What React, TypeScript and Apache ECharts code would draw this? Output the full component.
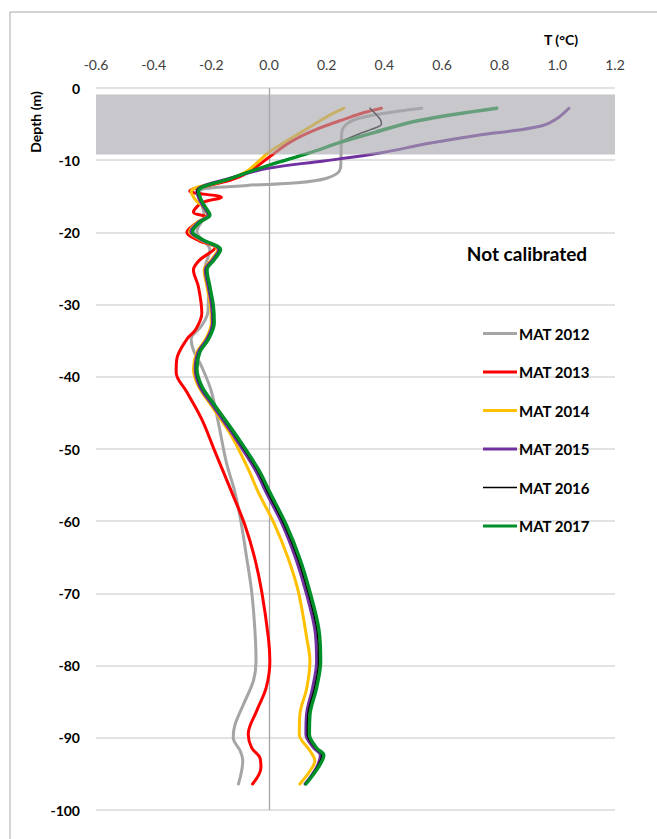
import React, { useEffect, useRef } from "react";
import * as echarts from "echarts";

const xTicks = { min: -0.6, max: 1.2, interval: 0.2 };
const yTicks = { min: -100, max: 0, interval: 10 };
const band = { top: -0.9, bottom: -9.2, left: -0.6, right: 1.2 };

const seriesNames = ["MAT 2012", "MAT 2013", "MAT 2014", "MAT 2015", "MAT 2016", "MAT 2017"];
const seriesColors = ["#a5a5a5", "#ff0000", "#ffc000", "#7030a0", "#000000", "#00902a"];
const seriesWidths = [3, 3, 3, 3, 1.6, 3.4];

const mat2012: [number, number][] = [
  [0.53, -2.8], [0.385, -3.6], [0.29, -4.5], [0.258, -5.5], [0.252, -6.5], [0.25, -9], [0.248, -11.1],
  [0.2, -12.5], [0.073, -13.2], [-0.077, -13.5], [-0.24, -14.3], [-0.238, -15.5], [-0.225, -17.6],
  [-0.25, -19.9], [-0.205, -22.4], [-0.222, -25], [-0.21, -28], [-0.212, -31], [-0.235, -33],
  [-0.27, -34.8], [-0.262, -36.3], [-0.23, -38.9], [-0.2, -42], [-0.175, -46.5], [-0.147, -52],
  [-0.118, -56], [-0.095, -60.6], [-0.077, -65.2], [-0.06, -69.8], [-0.049, -75], [-0.045, -79.4],
  [-0.054, -82.1], [-0.089, -85.4], [-0.118, -88.2], [-0.124, -90], [-0.1, -91.8], [-0.091, -93.2],
  [-0.106, -96.4],
];

const mat2013: [number, number][] = [
  [0.39, -2.8], [0.33, -3.4], [0.27, -4.2], [0.16, -5.8], [0.073, -7.5], [0.0, -9.6], [-0.077, -11.8],
  [-0.135, -12.8], [-0.275, -14.3], [-0.165, -15.15], [-0.232, -15.9], [-0.262, -17.2], [-0.216, -17.9],
  [-0.262, -19], [-0.285, -20], [-0.24, -21.2], [-0.187, -22.1], [-0.24, -23.8], [-0.262, -25.2],
  [-0.245, -27.5], [-0.233, -31.2], [-0.255, -33.5], [-0.285, -34.8], [-0.32, -37.6], [-0.322, -39.4],
  [-0.285, -42.1], [-0.233, -45.9], [-0.187, -50.4], [-0.129, -56], [-0.083, -60.6], [-0.049, -65.2],
  [-0.025, -69.8], [-0.002, -76.2], [0.003, -79.4], [-0.01, -83.1], [-0.043, -86.3], [-0.072, -89.5],
  [-0.06, -91.4], [-0.031, -92.8], [-0.028, -94.1], [-0.057, -96.4],
];

const mat2014: [number, number][] = [
  [0.26, -2.8], [0.2, -4], [0.15, -5.2], [0.075, -7], [0.0, -8.9], [-0.08, -11.6], [-0.17, -13],
  [-0.27, -14.3], [-0.255, -15.5], [-0.23, -16.4], [-0.213, -17.6], [-0.25, -18.6], [-0.275, -19.9],
  [-0.24, -21], [-0.178, -22.4], [-0.2, -23.8], [-0.225, -25.2], [-0.215, -27.5], [-0.203, -30.2],
  [-0.2, -32.5], [-0.22, -34.8], [-0.25, -36.6], [-0.262, -38.9], [-0.245, -41.3], [-0.2, -44],
  [-0.13, -48.2], [-0.072, -52.8], [-0.037, -56], [0.021, -60.6], [0.067, -65.2], [0.102, -69.8],
  [0.131, -76.2], [0.142, -79.4], [0.131, -83.1], [0.107, -86.8], [0.105, -89.5], [0.142, -91.8],
  [0.159, -93.2], [0.142, -94.6], [0.107, -96.4],
];

const mat2015: [number, number][] = [
  [1.04, -2.8], [1.0, -4.2], [0.95, -5.2], [0.85, -5.9], [0.73, -6.5], [0.55, -7.7], [0.385, -9.0],
  [0.19, -10.1], [0.0, -11.1], [-0.135, -12.5], [-0.25, -14.3], [-0.241, -15.5], [-0.228, -16.4],
  [-0.211, -17.6], [-0.246, -18.6], [-0.271, -19.9], [-0.236, -21], [-0.174, -22.4], [-0.196, -23.8],
  [-0.221, -25.2], [-0.211, -27.5], [-0.199, -30.2], [-0.196, -32.5], [-0.216, -34.8], [-0.246, -36.6],
  [-0.256, -38.9], [-0.241, -41.3], [-0.195, -44], [-0.122, -48.2], [-0.049, -52.8], [-0.01, -56],
  [0.048, -60.6], [0.093, -65.2], [0.128, -69.8], [0.159, -75], [0.165, -79.4], [0.151, -83.1],
  [0.13, -86.8], [0.128, -89.5], [0.155, -91.4], [0.178, -92.4], [0.165, -94.1], [0.125, -96.4],
];

const mat2016: [number, number][] = [
  [0.35, -2.8], [0.385, -4.3], [0.39, -5.0], [0.35, -5.8], [0.31, -6.4], [0.25, -7.4], [0.135, -9],
  [-0.005, -10.7], [-0.135, -12.5], [-0.25, -14.3], [-0.238, -15.5], [-0.225, -16.4], [-0.208, -17.6],
  [-0.243, -18.6], [-0.268, -19.9], [-0.233, -21], [-0.171, -22.4], [-0.193, -23.8], [-0.218, -25.2],
  [-0.208, -27.5], [-0.196, -30.2], [-0.193, -32.5], [-0.213, -34.8], [-0.243, -36.6], [-0.253, -38.9],
  [-0.237, -41.3], [-0.19, -44], [-0.117, -48.2], [-0.043, -52.8], [-0.004, -56], [0.054, -60.6],
  [0.1, -65.2], [0.135, -69.8], [0.166, -75], [0.172, -79.4], [0.158, -83.1], [0.135, -86.8],
  [0.133, -89.5], [0.16, -91.4], [0.183, -92.4], [0.166, -94.1], [0.125, -96.4],
];

const mat2017: [number, number][] = [
  [0.79, -2.8], [0.52, -4.5], [0.37, -6.1], [0.25, -7.5], [0.14, -9], [0.0, -10.7], [-0.13, -12.5],
  [-0.245, -14.3], [-0.235, -15.5], [-0.222, -16.4], [-0.205, -17.6], [-0.24, -18.6], [-0.265, -19.9],
  [-0.23, -21], [-0.168, -22.4], [-0.19, -23.8], [-0.215, -25.2], [-0.205, -27.5], [-0.193, -30.2],
  [-0.19, -32.5], [-0.21, -34.8], [-0.24, -36.6], [-0.25, -38.9], [-0.233, -41.3], [-0.187, -44],
  [-0.112, -48.2], [-0.037, -52.8], [0.003, -56], [0.061, -60.6], [0.107, -65.2], [0.142, -69.8],
  [0.173, -75], [0.179, -79.4], [0.165, -83.1], [0.142, -86.8], [0.14, -89.5], [0.165, -91.4],
  [0.19, -92.4], [0.171, -94.1], [0.128, -96.4],
];

const allData = [mat2012, mat2013, mat2014, mat2015, mat2016, mat2017];

const FONT = "Lato, 'Open Sans', sans-serif";

export default function App() {
  const ref = useRef<HTMLDivElement>(null);
  useEffect(() => {
    document.body.style.margin = "0";
    const chart = echarts.init(ref.current!, null, { renderer: "svg" });
    const lineSeries: any[] = seriesNames.map((name, i) => ({
      name,
      type: "line",
      data: allData[i],
      showSymbol: false,
      symbol: "none",
      smooth: 0.35,
      lineStyle: { color: seriesColors[i], width: seriesWidths[i], cap: "round", join: "round" },
      itemStyle: { color: seriesColors[i] },
      z: 3 + i,
      ...(i === 0
        ? {
            markLine: {
              silent: true,
              symbol: "none",
              label: { show: false },
              lineStyle: { color: "#a6a6a6", width: 1.3, type: "solid" },
              data: [{ xAxis: 0 }],
              z: 1,
            },
          }
        : {}),
    }));
    lineSeries.push({
      name: "band",
      type: "line",
      data: [],
      z: 20,
      silent: true,
      markArea: {
        silent: true,
        z: 30,
        itemStyle: { color: "rgba(166,166,172,0.62)" },
        data: [[{ coord: [band.left, band.top] }, { coord: [band.right, band.bottom] }]],
      },
    });
    chart.setOption({
      animation: false,
      backgroundColor: "#ffffff",
      textStyle: { fontFamily: FONT },
      grid: { left: 96, right: 42, top: 88, bottom: 29, containLabel: false },
      xAxis: {
        type: "value",
        position: "top",
        min: xTicks.min,
        max: xTicks.max,
        interval: xTicks.interval,
        axisLine: { show: false },
        axisTick: { show: false },
        splitLine: { show: false },
        axisLabel: {
          color: "#404040",
          fontSize: 14,
          fontFamily: FONT,
          margin: 17,
          formatter: (v: number) => v.toFixed(1),
        },
      },
      yAxis: {
        type: "value",
        min: yTicks.min,
        max: yTicks.max,
        interval: yTicks.interval,
        axisLine: { show: false },
        axisTick: { show: false },
        splitLine: { show: true, lineStyle: { color: "#d9d9d9", width: 1.5 } },
        axisLabel: {
          color: "#000000",
          fontSize: 14,
          fontWeight: "bold",
          fontFamily: FONT,
          margin: 16,
        },
      },
      legend: {
        data: seriesNames.map((name, i) => ({
          name,
          icon: i === 4 ? "path://M0,0H34V1.6H0Z" : "path://M0,0H34V3.2H0Z",
        })),
        orient: "vertical",
        left: 478,
        top: 321,
        itemWidth: 34,
        itemHeight: 14,
        itemGap: 23.5,
        textStyle: { color: "#000000", fontSize: 15, fontWeight: "bold", fontFamily: FONT, padding: [0, 0, 0, -3] },
      },
      graphic: [
        {
          type: "rect",
          shape: { x: 10, y: 12, width: 800, height: 1000 },
          style: { fill: "none", stroke: "#a6a6a6", lineWidth: 1 },
          silent: true,
          z: -10,
        },
        {
          type: "text",
          x: 561,
          y: 39,
          style: { text: "T (°C)", font: `bold 14px ${FONT}`, fill: "#000", align: "center", verticalAlign: "middle" },
        },
        {
          type: "text",
          x: 35,
          y: 122,
          rotation: Math.PI / 2,
          style: { text: "Depth (m)", font: `bold 14px ${FONT}`, fill: "#000", align: "center", verticalAlign: "middle" },
        },
        {
          type: "text",
          x: 527,
          y: 253,
          style: { text: "Not calibrated", font: `bold 19px ${FONT}`, fill: "#000", align: "center", verticalAlign: "middle" },
        },
      ],
      series: lineSeries,
    });
    return () => chart.dispose();
  }, []);
  return <div ref={ref} style={{ width: 657, height: 839 }} />;
}
